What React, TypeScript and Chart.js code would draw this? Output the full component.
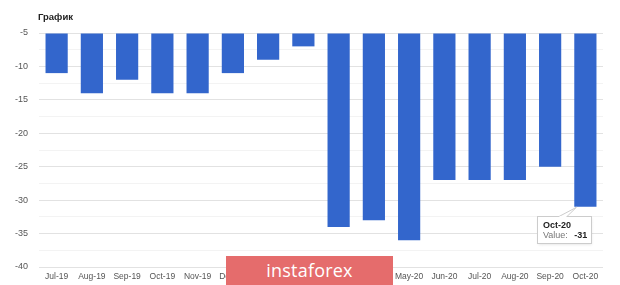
import React, { useEffect, useRef } from "react";
import { Chart, registerables } from "chart.js";

Chart.register(...registerables);

const categories = ["Jul-19", "Aug-19", "Sep-19", "Oct-19", "Nov-19", "Dec-19", "Jan-20", "Feb-20", "Mar-20", "Apr-20", "May-20", "Jun-20", "Jul-20", "Aug-20", "Sep-20", "Oct-20"];
const values = [-11, -14, -12, -14, -14, -11, -9, -7, -34, -33, -36, -27, -27, -27, -25, -31];
const yMin = -40;
const yMax = -5;
const title = "График";
const tooltipIndex = 15;

const FONT = "'Liberation Sans', Arial, sans-serif";

const calloutPlugin = {
  id: "callout",
  afterDatasetsDraw(chart: any) {
    const meta = chart.getDatasetMeta(0);
    const bar = meta.data[tooltipIndex];
    if (!bar) return;
    const ctx = chart.ctx;
    const bx = bar.x;
    const by = bar.y;
    const left = Math.round(bx - 48);
    const top = Math.round(by + 9);
    const w = 54;
    const h = 27;
    ctx.save();
    ctx.beginPath();
    ctx.moveTo(left + 22, top + 0.5);
    ctx.lineTo(bx - 9, by + 0.5);
    ctx.lineTo(left + 30, top + 0.5);
    ctx.closePath();
    ctx.fillStyle = "#ffffff";
    ctx.fill();
    ctx.strokeStyle = "#cccccc";
    ctx.lineWidth = 1;
    ctx.stroke();
    ctx.shadowColor = "rgba(0,0,0,0.12)";
    ctx.shadowBlur = 3;
    ctx.shadowOffsetY = 1;
    ctx.fillStyle = "#ffffff";
    ctx.fillRect(left + 0.5, top + 0.5, w, h);
    ctx.shadowColor = "transparent";
    ctx.strokeRect(left + 0.5, top + 0.5, w, h);
    ctx.beginPath();
    ctx.moveTo(left + 22.5, top + 0.5);
    ctx.lineTo(left + 29.5, top + 0.5);
    ctx.strokeStyle = "#ffffff";
    ctx.stroke();
    ctx.textBaseline = "middle";
    ctx.textAlign = "left";
    ctx.fillStyle = "#222";
    ctx.font = `bold 9px ${FONT}`;
    ctx.fillText(categories[tooltipIndex], left + 6, top + 10);
    ctx.font = `9px ${FONT}`;
    ctx.fillStyle = "#777";
    const lab = "Value: ";
    ctx.fillText(lab, left + 6, top + 20);
    const lw = ctx.measureText(lab).width;
    ctx.font = `bold 9px ${FONT}`;
    ctx.fillStyle = "#222";
    ctx.fillText(String(values[tooltipIndex]), left + 6 + lw + 4, top + 20);
    ctx.restore();
  },
};

export default function App() {
  const ref = useRef<HTMLCanvasElement | null>(null);
  useEffect(() => {
    document.body.style.margin = "0";
    const chart = new Chart(ref.current as HTMLCanvasElement, {
      type: "bar",
      data: {
        labels: categories,
        datasets: [
          {
            data: values,
            base: yMax,
            backgroundColor: "#3366cc",
            borderWidth: 0,
            barPercentage: 0.63,
            categoryPercentage: 1,
          } as any,
        ],
      },
      options: {
        animation: false,
        responsive: false,
        maintainAspectRatio: false,
        layout: { padding: { top: 33, right: 17, left: 0, bottom: 0 } },
        plugins: {
          legend: { display: false },
          tooltip: { enabled: false },
          title: { display: false },
        },
        scales: {
          x: {
            grid: { display: false, drawTicks: false },
            border: { display: false },
            ticks: {
              color: "#555",
              font: { family: FONT, size: 8.5 },
              maxRotation: 0,
              autoSkip: false,
              padding: 5,
            },
            afterFit: (s: any) => {
              s.height = 18;
            },
          },
          y: {
            min: yMin,
            max: yMax,
            grid: {
              drawTicks: false,
              color: (c: any) => {
                const v = c.tick ? c.tick.value : 0;
                return Math.abs(v % 5) < 0.01 ? "#e2e2e2" : "#f3f3f3";
              },
            },
            border: { display: false },
            ticks: {
              stepSize: 2.5,
              color: "#555",
              font: { family: FONT, size: 9 },
              padding: 11,
              callback: (v: any) => (Math.abs(Number(v) % 5) < 0.01 ? String(v) : ""),
            },
            afterFit: (s: any) => {
              s.width = 39;
            },
          },
        },
      },
      plugins: [
        calloutPlugin,
        {
          id: "titleText",
          afterDraw(chart: any) {
            const ctx = chart.ctx;
            ctx.save();
            ctx.font = `bold 9.5px ${FONT}`;
            ctx.fillStyle = "#222";
            ctx.textBaseline = "middle";
            ctx.fillText(title, 38, 17);
            ctx.restore();
          },
        },
      ],
    });
    return () => chart.destroy();
  }, []);
  return (
    <div style={{ position: "absolute", left: 0, top: 0, width: 620, height: 285, background: "#fff", overflow: "hidden" }}>
      <canvas ref={ref} width={620} height={285} style={{ display: "block" }} />
      <div
        style={{
          position: "absolute",
          left: 226,
          top: 256,
          width: 167,
          height: 29,
          background: "rgb(229, 108, 108)",
          color: "#fff",
          fontFamily: "'Open Sans', 'DejaVu Sans', sans-serif",
          fontSize: 18,
          lineHeight: "29px",
          textAlign: "center",
          letterSpacing: 0.2,
        }}
      >
        instaforex
      </div>
    </div>
  );
}
